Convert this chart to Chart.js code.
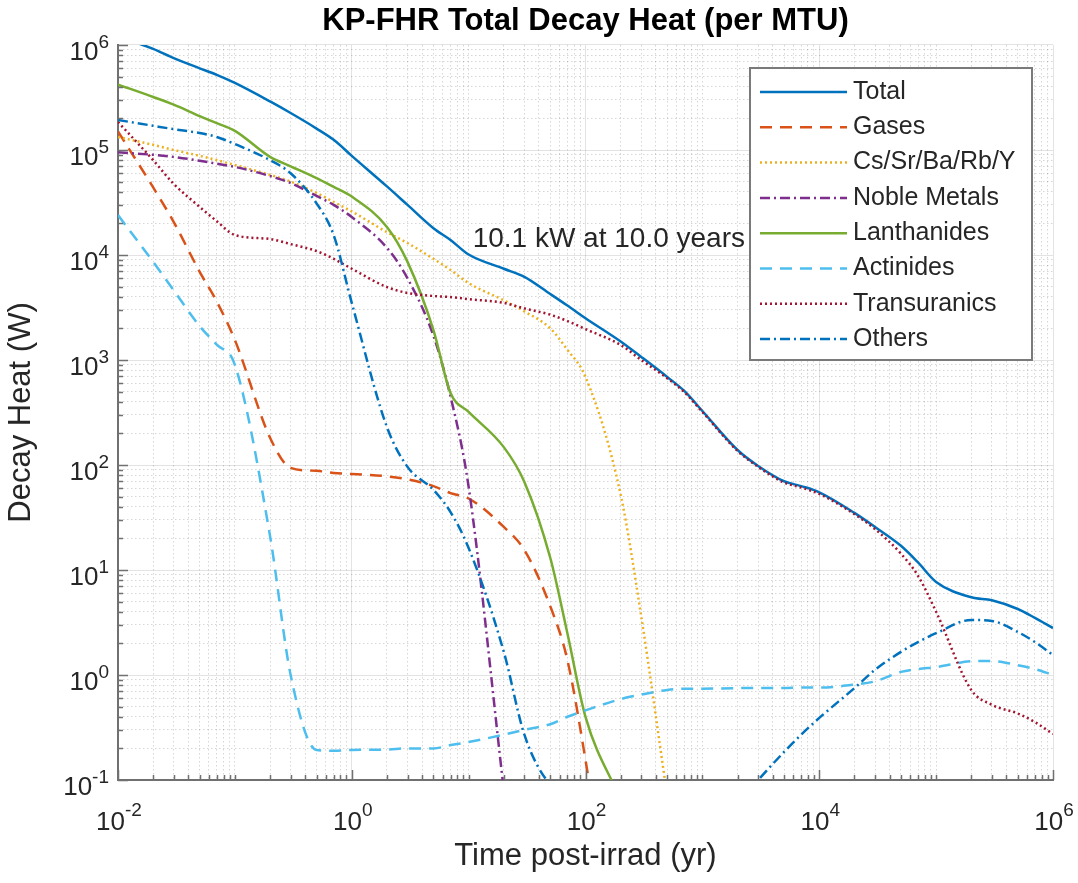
<!DOCTYPE html>
<html>
<head>
<meta charset="utf-8">
<title>KP-FHR Total Decay Heat</title>
<script src="https://cdn.jsdelivr.net/npm/chart.js@4.4.1/dist/chart.umd.min.js"></script>
<style>
  html, body { margin: 0; padding: 0; background: #fff; }
  #wrap { width: 1078px; height: 883px; }
</style>
</head>
<body>
<div id="wrap"><canvas id="chart" width="1078" height="883"></canvas></div>
<script>
// time after irradiation (yr)
const times = [0.01, 0.02, 0.03, 0.05, 0.07, 0.1, 0.2, 0.3, 0.5, 0.7,
  1, 2, 3, 5, 7, 10, 20, 30, 50, 70,
  100, 200, 300, 500, 700, 1e3, 2e3, 3e3, 5e3, 7e3,
  1e4, 2e4, 3e4, 5e4, 7e4, 1e5, 2e5, 3e5, 5e5, 7e5, 1e6];

// decay heat (W); null = no longer on the plot
const total = [1.2e6, 9.2e5, 7.5e5, 6.0e5, 5.2e5, 4.35e5, 2.9e5, 2.25e5, 1.6e5, 1.25e5,
  8.8e4, 4.5e4, 3.0e4, 1.8e4, 1.39e4, 1.01e4, 7.4e3, 6.2e3, 4.25e3, 3.3e3,
  2.5e3, 1.5e3, 1.07e3, 690, 507, 327, 139, 98, 70, 63,
  55, 35, 25.7, 17, 11.8, 7.7, 5.5, 5.15, 4.25, 3.5, 2.8];
const gases = [1.5e5, 4.4e4, 2.06e4, 6.9e3, 3.6e3, 1.55e3, 182, 94, 88, 84,
  82, 78, 73, 63, 54, 48, 25.7, 15.5, 4.5, 1.39,
  0.155, 0.001, null, null, null, null, null, null, null, null,
  null, null, null, null, null, null, null, null, null, null, null];
const cesium = [1.33e5, 1.12e5, 1.0e5, 8.8e4, 8.0e4, 7.2e4, 5.8e4, 5.0e4, 3.9e4, 3.2e4,
  2.6e4, 1.65e4, 1.3e4, 9.2e3, 7.2e3, 5.4e3, 3.7e3, 2.9e3, 2.0e3, 1.25e3,
  690, 52, 3.6, 0.07, null, null, null, null, null, null,
  null, null, null, null, null, null, null, null, null, null, null];
const nobleMetals = [9.5e4, 9.0e4, 8.6e4, 7.9e4, 7.4e4, 6.9e4, 5.65e4, 4.85e4, 3.65e4, 3.0e4,
  2.3e4, 1.17e4, 6.0e3, 1.7e3, 450, 62, 0.08, null, null, null,
  null, null, null, null, null, null, null, null, null, null,
  null, null, null, null, null, null, null, null, null, null, null];
const lanthanides = [4.2e5, 3.2e5, 2.7e5, 2.1e5, 1.8e5, 1.52e5, 8.6e4, 7.0e4, 5.4e4, 4.45e4,
  3.6e4, 1.85e4, 8.6e3, 1.93e3, 485, 320, 148, 69, 13, 2.5,
  0.4, 0.065, null, null, null, null, null, null, null, null,
  null, null, null, null, null, null, null, null, null, null, null];
const actinides = [2.4e4, 8.6e3, 4.6e3, 2.1e3, 1.4e3, 900, 21, 1.0, 0.193, 0.19,
  0.193, 0.195, 0.2, 0.2, 0.215, 0.23, 0.27, 0.3, 0.34, 0.4,
  0.46, 0.59, 0.65, 0.72, 0.74, 0.74, 0.75, 0.75, 0.75, 0.76,
  0.76, 0.81, 0.87, 1.07, 1.14, 1.19, 1.35, 1.36, 1.24, 1.14, 1.0];
const transuranics = [1.85e5, 8.0e4, 4.75e4, 2.87e4, 2.1e4, 1.55e4, 1.42e4, 1.27e4, 1.09e4, 9.2e3,
  7.4e3, 4.95e3, 4.35e3, 4.07e3, 3.98e3, 3.8e3, 3.5e3, 3.1e3, 2.7e3, 2.35e3,
  1.97e3, 1.39e3, 1.0e3, 670, 495, 320, 136, 96, 68, 61,
  53, 34, 24.5, 14.3, 8.8, 4.0, 0.72, 0.52, 0.43, 0.356, 0.274];
const others = [1.93e5, 1.7e5, 1.58e5, 1.45e5, 1.33e5, 1.14e5, 8.0e4, 6.0e4, 3.1e4, 1.55e4,
  3.5e3, 230, 96, 58, 35.6, 16.2, 1.66, 0.27, 0.09, 0.075,
  0.06, 0.04, 0.035, 0.03, 0.03, 0.035, 0.06, 0.1, 0.185, 0.27,
  0.39, 0.75, 1.12, 1.66, 2.06, 2.5, 3.34, 3.27, 2.57, 2.06, 1.55];

const seriesNames = ['Total', 'Gases', 'Cs/Sr/Ba/Rb/Y', 'Noble Metals', 'Lanthanides', 'Actinides', 'Transuranics', 'Others'];
const seriesValues = [total, gases, cesium, nobleMetals, lanthanides, actinides, transuranics, others];

// labelled decades
const xTickExponents = [-2, 0, 2, 4, 6];
const yTickExponents = [-1, 0, 1, 2, 3, 4, 5, 6];

const noteTime = 10;
const noteHeat = 1.01e4;
const noteText = '10.1 kW at 10.0 years';

// matlab default colour order and line specs
const lineStyles = [
  { color: '#0072BD', dash: [] },
  { color: '#D95319', dash: [12, 8] },
  { color: '#EDB120', dash: [2, 3] },
  { color: '#7E2F8E', dash: [10, 4, 2, 4] },
  { color: '#77AC30', dash: [] },
  { color: '#4DBEEE', dash: [12, 8] },
  { color: '#A2142F', dash: [2, 3] },
  { color: '#0072BD', dash: [10, 4, 2, 4] }
];

const fontFamily = "'Liberation Sans', Arial, Helvetica, sans-serif";
const textColor = '#262626';
const axisColor = '#707070';
const majorGrid = 'rgba(0,0,0,0.11)';
const minorGrid = 'rgba(0,0,0,0.16)';

Chart.defaults.font.family = fontFamily;
Chart.defaults.color = textColor;

function logTicks(minExp, maxExp, isMajor) {
  const ticks = [];
  for (let e = minExp; e < maxExp; e++) {
    for (let m = 1; m < 10; m++) {
      ticks.push({ value: m * Math.pow(10, e), major: m === 1 && isMajor(e) });
    }
  }
  ticks.push({ value: Math.pow(10, maxExp), major: isMajor(maxExp) });
  return ticks;
}

const gridColor = ctx => (ctx.tick && ctx.tick.major) ? majorGrid : minorGrid;
const gridDash = ctx => (ctx.tick && !ctx.tick.major) ? [1.5, 2.5] : [];

// inward ticks, 10^n labels, note and legend box
const matlabAxes = {
  id: 'matlabAxes',
  afterDraw(chart) {
    const { ctx, chartArea: area } = chart;
    const x = chart.scales.x, y = chart.scales.y;
    ctx.save();

    ctx.strokeStyle = axisColor;
    ctx.lineWidth = 1.5;
    ctx.setLineDash([]);
    ctx.beginPath();
    x.ticks.forEach(t => {
      const px = Math.round(x.getPixelForValue(t.value)) + 0.5;
      ctx.moveTo(px, area.bottom);
      ctx.lineTo(px, area.bottom - (t.major ? 10 : 5));
    });
    y.ticks.forEach(t => {
      const py = Math.round(y.getPixelForValue(t.value)) + 0.5;
      ctx.moveTo(area.left, py);
      ctx.lineTo(area.left + (t.major ? 10 : 5), py);
    });
    ctx.stroke();

    const baseFont = `26px ${fontFamily}`;
    const expFont = `19px ${fontFamily}`;
    ctx.fillStyle = textColor;
    ctx.textAlign = 'left';
    ctx.textBaseline = 'middle';
    const label = (e, placeX, py, lift) => {
      const exp = String(e);
      ctx.font = baseFont;
      const bw = ctx.measureText('10').width;
      ctx.font = expFont;
      const ew = ctx.measureText(exp).width;
      const sx = placeX(bw + ew);
      ctx.font = baseFont;
      ctx.fillText('10', sx, py);
      ctx.font = expFont;
      ctx.fillText(exp, sx + bw, py - lift);
    };
    xTickExponents.forEach(e => {
      const px = x.getPixelForValue(Math.pow(10, e));
      label(e, w => px - w / 2 + 1, area.bottom + 43, 12);
    });
    yTickExponents.forEach(e => {
      const py = y.getPixelForValue(Math.pow(10, e));
      label(e, w => area.left - 9 - w, py + 8, 10);
    });

    ctx.font = `28px ${fontFamily}`;
    ctx.fillText(noteText, x.getPixelForValue(noteTime) + 4, y.getPixelForValue(noteHeat) - 15);

    const lx = area.right - 303, ly = area.top + 23, lw = 282, lh = 292;
    ctx.fillStyle = '#fff';
    ctx.fillRect(lx, ly, lw, lh);
    ctx.strokeStyle = '#7a7a7a';
    ctx.lineWidth = 2;
    ctx.strokeRect(lx, ly, lw, lh);
    ctx.font = `25px ${fontFamily}`;
    chart.data.datasets.forEach((ds, i) => {
      const rowY = ly + 24 + i * 35.3;
      ctx.strokeStyle = ds.borderColor;
      ctx.lineWidth = ds.borderWidth;
      ctx.setLineDash(ds.borderDash);
      ctx.beginPath();
      ctx.moveTo(lx + 10, rowY);
      ctx.lineTo(lx + 97, rowY);
      ctx.stroke();
      ctx.setLineDash([]);
      ctx.fillStyle = textColor;
      ctx.fillText(ds.label, lx + 103, rowY);
    });
    ctx.restore();
  }
};

const datasets = seriesNames.map((name, i) => ({
  label: name,
  data: times.map((t, j) => ({ x: t, y: seriesValues[i][j] })),
  borderColor: lineStyles[i].color,
  borderDash: lineStyles[i].dash,
  borderWidth: 2.5,
  borderCapStyle: 'butt',
  pointRadius: 0,
  fill: false,
  cubicInterpolationMode: 'monotone',
  order: seriesNames.length - i
}));

new Chart(document.getElementById('chart'), {
  type: 'line',
  data: { datasets },
  options: {
    responsive: false,
    animation: false,
    devicePixelRatio: 1,
    layout: { padding: { left: 0, right: 25, top: 0, bottom: 0 } },
    plugins: {
      legend: { display: false },
      tooltip: { enabled: false },
      title: {
        display: true,
        fullSize: false,
        text: 'KP-FHR Total Decay Heat (per MTU)',
        color: '#000',
        font: { size: 31, weight: 'bold' },
        padding: { top: 3, bottom: 4.8 }
      }
    },
    scales: {
      x: {
        type: 'logarithmic',
        min: 0.01,
        max: 1e6,
        afterBuildTicks: s => { s.ticks = logTicks(-2, 6, e => e % 2 === 0); },
        afterFit: s => { s.height = 103; },
        ticks: { display: false },
        grid: { color: gridColor, lineWidth: 1, drawTicks: false },
        border: { display: true, color: axisColor, width: 2, dash: gridDash },
        title: {
          display: true,
          text: 'Time post-irrad (yr)',
          color: textColor,
          font: { size: 31 },
          padding: { top: 0, bottom: 8 }
        }
      },
      y: {
        type: 'logarithmic',
        min: 0.1,
        max: 1e6,
        afterBuildTicks: s => { s.ticks = logTicks(-1, 6, () => true); },
        afterFit: s => { s.width = 118; },
        ticks: { display: false },
        grid: { color: gridColor, lineWidth: 1, drawTicks: false },
        border: { display: true, color: axisColor, width: 2, dash: gridDash },
        title: {
          display: true,
          text: 'Decay Heat (W)',
          color: textColor,
          font: { size: 31 },
          padding: { top: 3, bottom: 0 }
        }
      }
    }
  },
  plugins: [matlabAxes]
});
</script>
</body>
</html>
